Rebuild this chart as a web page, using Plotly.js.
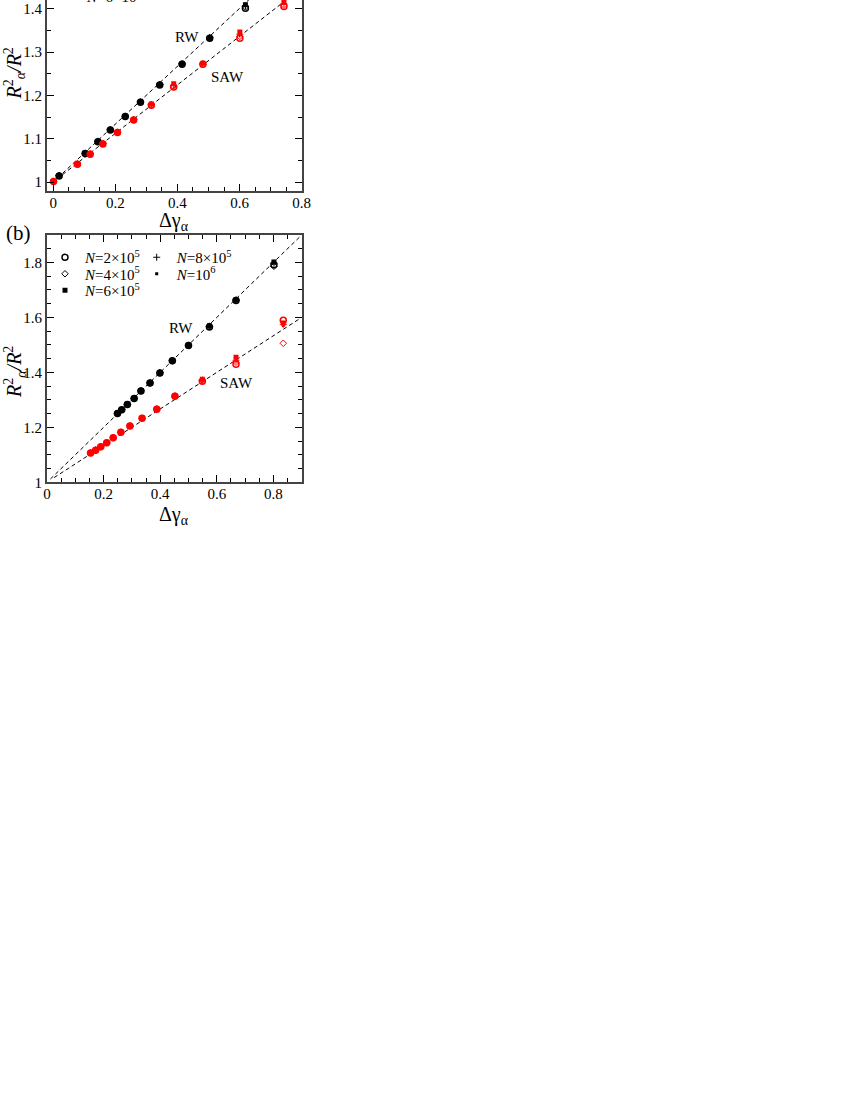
<!DOCTYPE html>
<html>
<head>
<meta charset="utf-8">
<script src="https://cdn.plot.ly/plotly-3.0.1.min.js"></script>
<style>body{margin:0;background:#fff}</style>
</head>
<body>
<div id="chart" style="width:850px;height:1100px"></div>
<script>
// legend labels, one per chain length N
var nLabels = ['<i>N</i>=2×10<sup>5</sup>', '<i>N</i>=4×10<sup>5</sup>', '<i>N</i>=6×10<sup>5</sup>',
               '<i>N</i>=8×10<sup>5</sup>', '<i>N</i>=10<sup>6</sup>'];

// panel (a), RW (black)
var aRwX   = [0.019, 0.103, 0.144, 0.184, 0.232, 0.281, 0.343, 0.415, 0.504, 0.619];
var aRw2   = [1.014, 1.066, 1.093, 1.120, 1.151, 1.184, 1.224, 1.272, 1.332, 1.401];
var aRw4   = [1.015, 1.065, 1.094, 1.121, 1.152, 1.185, 1.225, 1.273, 1.333, 1.404];
var aRw6   = [1.014, 1.067, 1.093, 1.120, 1.152, 1.185, 1.224, 1.273, 1.332, 1.409];
var aRw8   = [1.015, 1.066, 1.094, 1.121, 1.151, 1.184, 1.225, 1.272, 1.333, 1.406];
var aRw10  = [1.014, 1.066, 1.093, 1.120, 1.152, 1.185, 1.224, 1.273, 1.332, 1.410];

// panel (a), SAW (red)
var aSawX  = [0.001, 0.078, 0.119, 0.160, 0.207, 0.259, 0.316, 0.388, 0.482, 0.601, 0.743];
var aSaw2  = [1.001, 1.041, 1.064, 1.088, 1.114, 1.143, 1.177, 1.219, 1.272, 1.332, 1.405];
var aSaw4  = [1.002, 1.042, 1.065, 1.089, 1.115, 1.144, 1.178, 1.221, 1.271, 1.336, 1.408];
var aSaw6  = [1.001, 1.041, 1.064, 1.088, 1.114, 1.143, 1.180, 1.227, 1.274, 1.346, 1.415];
var aSaw8  = [1.001, 1.042, 1.065, 1.089, 1.115, 1.144, 1.179, 1.223, 1.273, 1.341, 1.411];
var aSaw10 = [1.001, 1.041, 1.064, 1.088, 1.114, 1.143, 1.180, 1.225, 1.274, 1.344, 1.413];

// panel (b), RW (black)
var bRwX   = [0.249, 0.264, 0.284, 0.308, 0.332, 0.364, 0.399, 0.443, 0.500, 0.574, 0.668, 0.802];
var bRw2   = [1.250, 1.264, 1.283, 1.305, 1.332, 1.361, 1.398, 1.442, 1.498, 1.565, 1.662, 1.792];
var bRw4   = [1.251, 1.265, 1.283, 1.306, 1.333, 1.362, 1.399, 1.443, 1.499, 1.567, 1.663, 1.786];
var bRw6   = [1.251, 1.265, 1.284, 1.306, 1.333, 1.362, 1.399, 1.443, 1.499, 1.570, 1.664, 1.802];
var bRw8   = [1.250, 1.264, 1.283, 1.305, 1.333, 1.361, 1.398, 1.442, 1.498, 1.568, 1.663, 1.797];
var bRw10  = [1.251, 1.265, 1.284, 1.306, 1.333, 1.362, 1.399, 1.443, 1.499, 1.569, 1.664, 1.799];

// panel (b), SAW (red)
var bSawX  = [0.154, 0.172, 0.190, 0.211, 0.234, 0.261, 0.293, 0.336, 0.388, 0.452, 0.549, 0.668, 0.835];
var bSaw2  = [1.107, 1.117, 1.129, 1.144, 1.162, 1.182, 1.205, 1.233, 1.266, 1.313, 1.368, 1.430, 1.590];
var bSaw4  = [1.108, 1.118, 1.130, 1.144, 1.162, 1.182, 1.206, 1.233, 1.267, 1.314, 1.370, 1.437, 1.506];
var bSaw6  = [1.108, 1.118, 1.130, 1.145, 1.163, 1.183, 1.206, 1.234, 1.268, 1.315, 1.375, 1.455, 1.580];
var bSaw8  = [1.107, 1.117, 1.129, 1.144, 1.162, 1.182, 1.205, 1.233, 1.267, 1.314, 1.372, 1.444, 1.575];
var bSaw10 = [1.108, 1.118, 1.130, 1.144, 1.163, 1.183, 1.206, 1.234, 1.268, 1.315, 1.374, 1.452, 1.571];

// dashed guide lines (end points)
var aRwFitX  = [0.03, 0.8],   aRwFitY  = [1.020, 1.534];
var aSawFitX = [0.03, 0.8],   aSawFitY = [1.017, 1.448];
var bRwFitX  = [0.012, 0.9],  bRwFitY  = [1.012, 1.900];
var bSawFitX = [0.025, 0.9],  bSawFitY = [1.017, 1.600];

var serif = 'Liberation Serif, Times New Roman, serif';
var symbols = ['circle-open', 'diamond-open', 'square', 'cross-thin-open', 'square'];
var sizes = [6, 5, 5, 5, 3];
var widths = [1.5, 1, 0, 1, 0];

function pts(x, y, i, color, xa, ya, extra) {
  var t = {
    x: x, y: y, xaxis: xa, yaxis: ya,
    type: 'scatter', mode: 'markers', name: nLabels[i],
    marker: {symbol: symbols[i], size: sizes[i], color: color, line: {color: color, width: widths[i]}},
    showlegend: false, hoverinfo: 'x+y'
  };
  for (var k in extra) t[k] = extra[k];
  return t;
}

function fit(x, y, xa, ya) {
  return {x: x, y: y, xaxis: xa, yaxis: ya, type: 'scatter', mode: 'lines',
          line: {color: '#000', width: 1, dash: '4px,3px'}, showlegend: false, hoverinfo: 'skip'};
}

var legendIds = ['legend', 'legend2', 'legend3', 'legend4', 'legend5'];

var data = [
  fit(aRwFitX, aRwFitY, 'x', 'y'),
  fit(aSawFitX, aSawFitY, 'x', 'y'),
  fit(bRwFitX, bRwFitY, 'x2', 'y2'),
  fit(bSawFitX, bSawFitY, 'x2', 'y2'),
  pts(aRwX, aRw2, 0, '#000', 'x', 'y'),
  pts(aRwX, aRw4, 1, '#000', 'x', 'y'),
  pts(aRwX, aRw6, 2, '#000', 'x', 'y'),
  pts(aRwX, aRw8, 3, '#000', 'x', 'y'),
  pts(aRwX, aRw10, 4, '#000', 'x', 'y'),
  pts(aSawX, aSaw2, 0, '#ff0000', 'x', 'y'),
  pts(aSawX, aSaw4, 1, '#ff0000', 'x', 'y'),
  pts(aSawX, aSaw6, 2, '#ff0000', 'x', 'y'),
  pts(aSawX, aSaw8, 3, '#ff0000', 'x', 'y'),
  pts(aSawX, aSaw10, 4, '#ff0000', 'x', 'y'),
  pts(bRwX, bRw2, 0, '#000', 'x2', 'y2', {showlegend: true, legend: legendIds[0]}),
  pts(bRwX, bRw4, 1, '#000', 'x2', 'y2', {showlegend: true, legend: legendIds[1]}),
  pts(bRwX, bRw6, 2, '#000', 'x2', 'y2', {showlegend: true, legend: legendIds[2]}),
  pts(bRwX, bRw8, 3, '#000', 'x2', 'y2', {showlegend: true, legend: legendIds[3]}),
  pts(bRwX, bRw10, 4, '#000', 'x2', 'y2', {showlegend: true, legend: legendIds[4]}),
  pts(bSawX, bSaw2, 0, '#ff0000', 'x2', 'y2'),
  pts(bSawX, bSaw4, 1, '#ff0000', 'x2', 'y2'),
  pts(bSawX, bSaw6, 2, '#ff0000', 'x2', 'y2'),
  pts(bSawX, bSaw8, 3, '#ff0000', 'x2', 'y2'),
  pts(bSawX, bSaw10, 4, '#ff0000', 'x2', 'y2')
];

function axis(o) {
  var a = {
    ticks: 'inside', ticklen: 7, tickwidth: 1, tickcolor: '#000',
    showline: true, linecolor: '#444', linewidth: 2,
    showgrid: false, zeroline: false,
    tickfont: {family: serif, size: 15, color: '#000'}
  };
  for (var k in o) a[k] = o[k];
  return a;
}

var xTitleText = 'Δγ<sub>α</sub>';
var yTitleText = '<i>R</i><sup>2</sup><sub><i>α</i></sub><i>/R</i><sup>2</sup>';

function leg(x, y) {
  return {x: x, y: y, xanchor: 'left', yanchor: 'middle', bgcolor: 'rgba(0,0,0,0)',
          font: {family: serif, size: 15, color: '#000'}};
}

function note(x, y, text, size, extra) {
  var a = {xref: 'paper', yref: 'paper', x: x / 850, y: 1 - y / 1100, xanchor: 'center', yanchor: 'middle',
           text: text, showarrow: false, font: {family: serif, size: size, color: '#000'}};
  for (var k in extra) a[k] = extra[k];
  return a;
}

var layout = {
  width: 850, height: 1100,
  margin: {l: 0, r: 0, t: 0, b: 0, autoexpand: false},
  paper_bgcolor: '#fff', plot_bgcolor: '#fff',
  xaxis: axis({domain: [0.0553, 0.3549], anchor: 'y', range: [-0.02, 0.8001], tick0: 0, dtick: 0.2,
               minor: {dtick: 0.05, ticks: 'inside', ticklen: 4, tickcolor: '#000'},
               mirror: false, ticklabelstandoff: -3}),
  yaxis: axis({domain: [0.82664, 1], anchor: 'x', range: [0.98, 1.42], tick0: 1, dtick: 0.1,
               minor: {dtick: 0.05, ticks: 'inside', ticklen: 4, tickcolor: '#000'},
               mirror: 'ticks'}),
  xaxis2: axis({domain: [0.0553, 0.3549], anchor: 'y2', range: [0, 0.9], tick0: 0, dtick: 0.2,
                minor: {dtick: 0.05, ticks: 'inside', ticklen: 4, tickcolor: '#000'},
                mirror: 'ticks', ticklabelstandoff: -3}),
  yaxis2: axis({domain: [0.56155, 0.78636], anchor: 'x2', range: [1, 1.9], tick0: 1, dtick: 0.2,
                minor: {dtick: 0.05, ticks: 'inside', ticklen: 4, tickcolor: '#000'},
                mirror: 'ticks'}),
  legend:  leg(45 / 850, 1 - 257.5 / 1100),
  legend2: leg(45 / 850, 1 - 274 / 1100),
  legend3: leg(45 / 850, 1 - 290.5 / 1100),
  legend4: leg(136.7 / 850, 1 - 257.5 / 1100),
  legend5: leg(136.7 / 850, 1 - 274 / 1100),
  annotations: [
    // axis titles
    note(15, 73.5, yTitleText, 20, {textangle: -90}),
    note(15, 372, yTitleText, 20, {textangle: -90}),
    note(174, 222, xTitleText, 20),
    note(174, 515, xTitleText, 20),
    note(18, 233, '(b)', 21),
    // last legend row of panel (a), cut by the top edge of the page
    note(63, 3, '■', 8, {yanchor: 'bottom', font: {family: 'DejaVu Sans', size: 8, color: '#000'}}),
    note(84, 7, nLabels[2], 15, {xanchor: 'left', yanchor: 'bottom'}),
    // curve labels
    {xref: 'x', yref: 'y', x: 0.431, y: 1.335, text: 'RW', showarrow: false,
     font: {family: serif, size: 15, color: '#000'}},
    {xref: 'x', yref: 'y', x: 0.561, y: 1.243, text: 'SAW', showarrow: false,
     font: {family: serif, size: 15, color: '#000'}},
    {xref: 'x2', yref: 'y2', x: 0.472, y: 1.56, text: 'RW', showarrow: false,
     font: {family: serif, size: 15, color: '#000'}},
    {xref: 'x2', yref: 'y2', x: 0.671, y: 1.361, text: 'SAW', showarrow: false,
     font: {family: serif, size: 15, color: '#000'}}
  ]
};

Plotly.newPlot('chart', data, layout, {displayModeBar: false, staticPlot: true});
</script>
</body>
</html>
